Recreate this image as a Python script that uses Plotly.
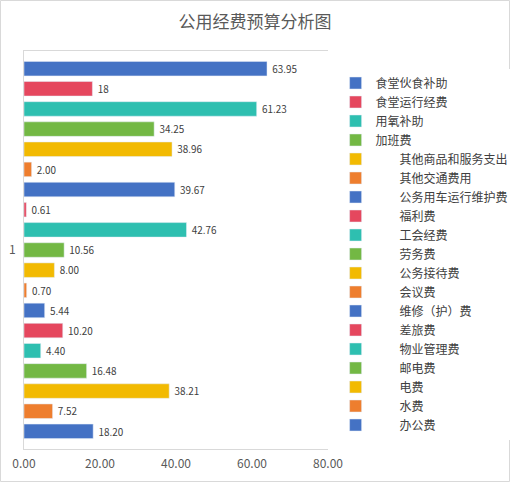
import plotly.graph_objects as go

# budget items, top bar first
items = ["食堂伙食补助", "食堂运行经费", "用氧补助", "加班费",
         "其他商品和服务支出", "其他交通费用", "公务用车运行维护费", "福利费",
         "工会经费", "劳务费", "公务接待费", "会议费", "维修（护）费",
         "差旅费", "物业管理费", "邮电费", "电费", "水费", "办公费"]
amounts = [63.95, 18, 61.23, 34.25, 38.96, 2.00, 39.67, 0.61, 42.76, 10.56,
           8.00, 0.70, 5.44, 10.20, 4.40, 16.48, 38.21, 7.52, 18.20]
amount_labels = ["63.95", "18", "61.23", "34.25", "38.96", "2.00", "39.67",
                 "0.61", "42.76", "10.56", "8.00", "0.70", "5.44", "10.20",
                 "4.40", "16.48", "38.21", "7.52", "18.20"]
category = "1"

palette = ["#4472C4", "#E5475E", "#2EBFB0", "#73B844", "#F2BA02", "#EE7E2E"]

fig = go.Figure()
for i, (name, val, lbl) in enumerate(zip(items, amounts, amount_labels)):
    # legend entries after the first four are indented in the original
    legend_name = name if i < 4 else "\u3000\u3000" + name
    fig.add_trace(go.Bar(
        x=[val], y=[category], orientation="h", name=legend_name,
        marker_color=palette[i % len(palette)],
        text=[lbl], texttemplate="\u00a0%{text}",
        textposition="outside", cliponaxis=False,
        textfont=dict(size=13, color="#404040"),
        hoverinfo="x+name",
    ))

W, H = 304, 398  # plot area in px
fig.update_layout(
    width=510, height=482,
    title=dict(text="公用经费预算分析图", x=0.5, xanchor="center", y=0.966,
               font=dict(size=17, color="#595959")),
    font=dict(family="Noto Sans CJK SC", color="#595959"),
    barmode="group", bargap=0.038, bargroupgap=0.28,
    margin=dict(l=24, r=182, t=51, b=33, autoexpand=False),
    paper_bgcolor="white", plot_bgcolor="white",
    legend=dict(x=1.025, y=0.956, xanchor="left", yanchor="top",
                font=dict(size=12, color="#404040"), tracegroupgap=0,
                itemwidth=30),
    xaxis=dict(range=[0, 80], dtick=20, tickformat=".2f", showgrid=False,
               showline=True, linecolor="#D9D9D9", mirror=True, zeroline=False,
               tickfont=dict(size=12, color="#595959"), ticks="",
               ticklabelstandoff=4, automargin=False),
    yaxis=dict(type="category", autorange="reversed", showgrid=False,
               showline=True, linecolor="#D9D9D9", automargin=False,
               ticklabelstandoff=5,
               tickfont=dict(size=12, color="#595959"), ticks=""),
    shapes=[dict(type="rect", xref="paper", yref="paper",
                 x0=-23.5 / W, x1=(509.5 - 24) / W,
                 y0=-32.5 / H, y1=(H + 50.5) / H,
                 line=dict(color="#D9D9D9", width=1))],
)

# drop the default page margin so the 510x482 figure fills the window
fig.write_html("out.html", config={"displayModeBar": False},
               post_script="document.body.style.margin='0px';")
